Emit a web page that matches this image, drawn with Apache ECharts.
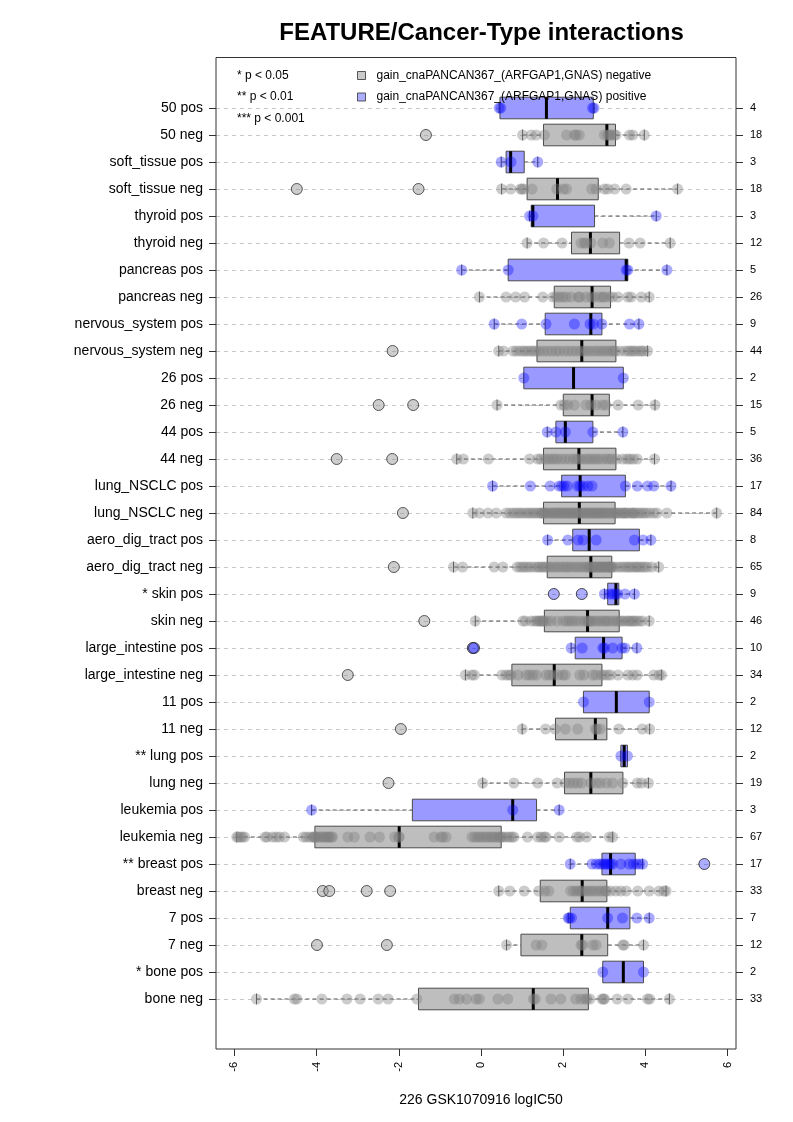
<!DOCTYPE html>
<html><head><meta charset="utf-8">
<script src="https://cdn.jsdelivr.net/npm/echarts/dist/echarts.min.js"></script>
<style>html,body{margin:0;padding:0;background:#fff}#c{width:793px;height:1122px}</style>
</head><body><div id="c"></div>
<script>
// rows listed bottom -> top
const rowNames = ['bone neg','* bone pos','7 neg','7 pos','breast neg','** breast pos','leukemia neg','leukemia pos',
  'lung neg','** lung pos','11 neg','11 pos','large_intestine neg','large_intestine pos','skin neg','* skin pos',
  'aero_dig_tract neg','aero_dig_tract pos','lung_NSCLC neg','lung_NSCLC pos','44 neg','44 pos','26 neg','26 pos',
  'nervous_system neg','nervous_system pos','pancreas neg','pancreas pos','thyroid neg','thyroid pos',
  'soft_tissue neg','soft_tissue pos','50 neg','50 pos'];
const counts = [33,2,12,7,33,17,67,3,19,2,12,2,34,10,46,9,65,8,84,17,36,5,15,2,44,9,26,5,12,3,18,3,18,4];
const boxLo  = [-5.46,2.96,0.62,2.12,0.43,2.17,-5.94,-4.12,0.04,3.40,1.00,2.49,-0.38,2.19,-0.14,3.00,-0.67,1.62,-0.20,0.28,-0.59,1.61,0.39,1.04,0.43,0.32,-0.04,-0.47,1.12,1.18,0.50,0.49,1.01,0.44];
const boxQ1  = [-1.52,2.96,0.97,2.17,1.44,2.94,-4.04,-1.67,2.03,3.40,1.81,2.49,0.75,2.29,1.54,3.08,1.61,2.23,1.52,1.96,1.52,1.82,2.00,1.04,1.36,1.56,1.78,0.66,2.20,1.22,1.12,0.61,1.52,0.46];
const boxMed = [1.27,3.46,2.45,3.08,2.46,3.15,-1.99,0.77,2.67,3.48,2.78,3.29,1.78,2.98,2.59,3.28,2.67,2.63,2.39,2.41,2.38,2.05,2.70,2.25,2.45,2.67,2.70,3.53,2.66,1.26,1.86,0.72,3.06,1.59];
const boxQ3  = [2.61,3.95,3.08,3.62,3.06,3.75,0.49,1.35,3.45,3.56,3.06,4.09,2.94,3.43,3.36,3.35,3.18,3.85,3.26,3.51,3.28,2.72,3.12,3.46,3.28,2.94,3.15,3.57,3.37,2.76,2.85,1.05,3.27,2.73];
const boxHi  = [4.58,3.95,3.95,4.09,4.50,3.93,3.20,1.90,4.07,3.56,4.10,4.09,4.39,3.79,4.09,3.73,4.32,4.13,5.73,4.62,4.22,3.45,4.23,3.46,4.05,3.84,4.09,4.52,4.60,4.26,4.78,1.38,3.97,2.75];

const pointsByRow = [
  [-5.46,-4.54,-4.48,-3.87,-3.26,-2.94,-2.50,-2.26,-1.56,-0.65,-0.53,-0.35,-0.12,-0.04,0.41,0.65,1.27,1.32,1.70,1.94,2.30,2.43,2.53,2.58,2.65,2.94,2.98,3.00,3.31,3.57,4.05,4.10,4.58],
  [2.96,3.95],
  [0.62,1.34,1.48,2.43,2.47,2.72,2.80,3.45,3.48,3.95],
  [2.12,2.15,2.20,3.08,3.44,3.79,4.09],
  [0.43,0.70,1.05,1.40,1.55,1.65,2.18,2.25,2.32,2.38,2.44,2.50,2.58,2.65,2.72,2.80,2.88,2.95,3.02,3.05,3.15,3.28,3.40,3.53,3.81,4.09,4.33,4.45,4.50],
  [2.17,2.70,2.80,2.88,2.94,3.00,3.05,3.10,3.15,3.20,3.40,3.60,3.70,3.78,3.85,3.93],
  [-5.94,-5.90,-5.85,-5.80,-5.75,-5.25,-5.20,-5.07,-4.98,-4.90,-4.78,-4.32,-4.25,-4.17,-4.10,-4.06,-4.04,
   -4.01,-3.96,-3.90,-3.85,-3.80,-3.75,-3.72,-3.69,-3.64,-3.61,-3.24,-3.08,-2.70,-2.47,-2.10,-2.00,-1.99,
   -1.14,-0.98,-0.93,-0.85,-0.22,-0.15,-0.08,-0.02,0.05,0.12,0.18,0.25,0.30,0.36,0.42,0.47,0.49,
   0.55,0.62,0.69,0.75,0.80,1.13,1.38,1.46,1.54,1.58,1.90,2.33,2.40,2.57,3.12,3.20],
  [-4.12,0.77,1.90],
  [0.04,0.80,1.38,1.85,2.05,2.15,2.25,2.35,2.45,2.67,2.80,2.90,3.05,3.20,3.45,3.80,3.90,4.07],
  [3.40,3.56],
  [1.00,1.57,1.80,2.05,2.35,2.78,2.82,2.90,3.35,3.92,4.10],
  [2.49,4.09],
  [-0.38,-0.22,-0.16,0.51,0.61,0.68,0.73,0.90,1.10,1.18,1.26,1.35,1.58,1.66,1.75,1.87,1.99,2.05,2.40,2.50,2.72,2.80,2.93,3.00,3.08,3.15,3.33,3.57,3.69,3.80,4.20,4.33,4.39],
  [2.19,2.46,2.96,3.00,3.20,3.43,3.50,3.79],
  [-0.14,1.02,1.08,1.22,1.30,1.36,1.40,1.44,1.47,1.50,1.53,1.60,1.70,1.85,2.00,2.08,2.15,2.22,2.30,2.40,2.50,2.57,2.62,2.65,2.70,2.78,2.85,2.92,3.00,3.05,3.12,3.20,3.28,3.34,3.40,3.45,3.52,3.58,3.62,3.68,3.72,3.78,3.85,3.92,4.09],
  [3.00,3.12,3.20,3.26,3.32,3.50,3.73],
  [-0.67,-0.45,0.32,0.53,0.88,0.95,1.02,1.08,1.15,1.22,1.30,1.38,1.42,1.48,1.53,1.58,
   1.64,1.70,1.78,1.85,1.92,2.00,2.07,2.12,2.20,2.28,2.35,2.42,2.50,2.56,2.62,2.66,
   2.70,2.73,2.77,2.80,2.84,2.88,2.91,2.94,2.98,3.01,3.04,3.08,3.11,3.13,3.16,3.18,
   3.22,3.30,3.38,3.45,3.52,3.58,3.63,3.70,3.76,3.80,3.86,3.92,3.98,4.05,4.15,4.32],
  [1.62,2.11,2.36,2.48,2.80,3.73,3.94,4.13],
  [-0.20,-0.04,0.17,0.37,0.61,0.70,0.78,0.85,0.92,0.98,1.05,1.12,1.18,1.24,1.30,1.36,1.42,1.47,1.50,1.52,
   1.56,1.60,1.65,1.70,1.74,1.78,1.83,1.87,1.90,1.95,1.99,2.03,2.07,2.11,2.15,2.19,2.23,2.27,2.31,2.35,2.39,
   2.43,2.47,2.51,2.55,2.60,2.64,2.68,2.72,2.76,2.80,2.84,2.88,2.92,2.96,3.00,3.04,3.09,3.13,3.18,3.22,3.26,
   3.30,3.34,3.39,3.44,3.48,3.50,3.55,3.60,3.66,3.70,3.72,3.78,3.84,3.90,3.96,4.02,4.10,4.20,4.28,4.52,5.73],
  [0.28,1.20,1.68,1.90,1.96,2.02,2.10,2.35,2.41,2.48,2.60,2.70,3.51,3.80,4.05,4.20,4.62],
  [-0.59,-0.43,0.18,1.18,1.38,1.45,1.55,1.62,1.70,1.78,1.85,1.95,2.05,2.15,2.25,2.32,2.38,2.45,2.55,2.62,2.70,2.78,2.85,2.95,3.05,3.12,3.20,3.30,3.45,3.55,3.62,3.70,3.80,4.22],
  [1.61,1.82,2.05,2.72,3.45],
  [0.39,1.94,2.02,2.11,2.27,2.55,2.67,2.80,2.96,3.04,3.33,3.82,4.23],
  [1.04,3.46],
  [0.43,0.55,0.78,0.86,0.94,1.02,1.08,1.15,1.22,1.28,1.34,1.42,1.52,1.62,1.72,1.82,1.90,2.02,2.12,2.22,2.32,2.42,2.50,2.58,2.66,2.76,2.84,2.92,3.00,3.08,3.16,3.22,3.27,3.38,3.50,3.58,3.64,3.70,3.76,3.84,3.90,3.96,4.05],
  [0.32,0.99,1.58,2.27,2.65,2.73,2.94,3.61,3.84],
  [-0.04,0.61,0.84,1.06,1.50,1.75,1.83,1.91,1.99,2.07,2.19,2.36,2.40,2.56,2.68,2.76,2.88,2.96,3.00,3.12,3.20,3.33,3.57,3.65,3.90,4.09],
  [-0.47,0.66,3.53,3.57,4.52],
  [1.12,1.52,1.97,2.43,2.51,2.55,2.67,2.96,3.12,3.60,3.87,4.60],
  [1.18,1.26,4.26],
  [0.50,0.72,0.96,1.00,1.04,1.24,1.84,2.00,2.08,2.69,2.80,3.00,3.08,3.25,3.53,4.78],
  [0.49,0.73,1.38],
  [1.01,1.22,1.34,1.54,2.08,2.27,2.31,2.39,3.00,3.08,3.12,3.16,3.24,3.28,3.61,3.69,3.97],
  [0.44,0.48,2.71,2.75]
];
const outliersByRow = [
  [],[],[-3.99,-2.29],[],[-3.85,-3.69,-2.78,-2.21],[5.43],[],[],
  [-2.25],[],[-1.95],[],[-3.24],[-0.20,-0.17],[-1.38],[1.77,2.45],
  [-2.12],[],[-1.90],[],[-3.51,-2.16],[],[-2.49,-1.65],[],
  [-2.15],[],[],[],[],[],[-4.48,-1.52],[],[-1.34],[]
];
const xTitle = '226 GSK1070916 logIC50';
const chartTitle = 'FEATURE/Cancer-Type interactions';
const NEG_NAME = 'gain_cnaPANCAN367_(ARFGAP1,GNAS) negative';
const POS_NAME = 'gain_cnaPANCAN367_(ARFGAP1,GNAS) positive';
const pLegend = ['* p < 0.05', '** p < 0.01', '*** p < 0.001'];

const FONT = "'Liberation Sans', Arial, Helvetica, sans-serif";
const isPos = rowNames.map(n => /pos$/.test(n));

const boxData = rowNames.map((n, i) => [i + 1, boxLo[i], boxQ1[i], boxMed[i], boxQ3[i], boxHi[i], isPos[i] ? 1 : 0]);
const negPts = [], posPts = [], negOut = [], posOut = [];
pointsByRow.forEach((arr, i) => arr.forEach(v => (isPos[i] ? posPts : negPts).push([v, i + 1])));
outliersByRow.forEach((arr, i) => arr.forEach(v => (isPos[i] ? posOut : negOut).push([v, i + 1])));

function renderBox(params, api) {
  const row = api.value(0);
  const pos = api.value(6) === 1;
  const pLo = api.coord([api.value(1), row]);
  const pQ1 = api.coord([api.value(2), row]);
  const pMed = api.coord([api.value(3), row]);
  const pQ3 = api.coord([api.value(4), row]);
  const pHi = api.coord([api.value(5), row]);
  const h = api.size([0, 0.8])[1];
  const y = pQ1[1];
  const sh = h / 4;
  const edge = '#4a4a4a';
  const whisk = { stroke: '#555', lineWidth: 1, lineDash: [4, 3] };
  return {
    type: 'group',
    children: [
      { type: 'line', shape: { x1: pLo[0], y1: y, x2: pQ1[0], y2: y }, style: whisk },
      { type: 'line', shape: { x1: pQ3[0], y1: y, x2: pHi[0], y2: y }, style: whisk },
      { type: 'line', shape: { x1: pLo[0], y1: y - sh, x2: pLo[0], y2: y + sh }, style: { stroke: edge, lineWidth: 1 } },
      { type: 'line', shape: { x1: pHi[0], y1: y - sh, x2: pHi[0], y2: y + sh }, style: { stroke: edge, lineWidth: 1 } },
      { type: 'rect', shape: { x: pQ1[0], y: y - h / 2, width: pQ3[0] - pQ1[0], height: h },
        style: { fill: pos ? '#9999ff' : '#bebebe', stroke: edge, lineWidth: 1 } },
      { type: 'line', shape: { x1: pMed[0], y1: y - h / 2, x2: pMed[0], y2: y + h / 2 }, style: { stroke: '#000', lineWidth: 3 } }
    ]
  };
}

const chart = echarts.init(document.getElementById('c'), null, { renderer: 'canvas' });
const axisText = { fontFamily: FONT, color: '#000' };
chart.setOption({
  animation: false,
  backgroundColor: '#fff',
  title: {
    text: chartTitle, left: 476.5, top: 16, textAlign: 'center',
    textStyle: { fontFamily: FONT, fontSize: 24, fontWeight: 'bold', color: '#000' }
  },
  legend: {
    orient: 'vertical', left: 357, top: 69.5, padding: 0, itemWidth: 8, itemHeight: 8, itemGap: 9.5,
    icon: 'rect', selectedMode: false,
    data: [
      { name: NEG_NAME, itemStyle: { color: '#bebebe', borderColor: '#333', borderWidth: 1 } },
      { name: POS_NAME, itemStyle: { color: '#9999ff', borderColor: '#333', borderWidth: 1 } }
    ],
    textStyle: { fontFamily: FONT, fontSize: 12, color: '#000', padding: [0, 0, 0, 6] }
  },
  grid: [
    { left: 216, right: 57, top: 108, bottom: 123 },
    { left: 234.3, right: 65.3, top: 108, bottom: 123 }
  ],
  xAxis: [
    { type: 'value', gridIndex: 0, min: -6.445, max: 6.20, show: false },
    { type: 'value', gridIndex: 1, min: -6, max: 6, interval: 2, offset: 50,
      axisLine: { show: false, onZero: false },
      axisTick: { show: true, length: 7, lineStyle: { color: '#333' } },
      splitLine: { show: false },
      axisLabel: Object.assign({ rotate: 90, fontSize: 11, margin: 13 }, axisText),
      name: xTitle, nameLocation: 'middle', nameGap: 44,
      nameTextStyle: { fontFamily: FONT, fontSize: 14, color: '#000' } }
  ],
  yAxis: [
    { type: 'value', gridIndex: 0, min: 1, max: 34, interval: 1, position: 'left',
      axisLine: { show: false, onZero: false },
      axisTick: { show: true, length: 7, lineStyle: { color: '#333' } },
      axisLabel: Object.assign({ fontSize: 14, margin: 13, formatter: v => rowNames[Math.round(v) - 1] || '' }, axisText),
      splitLine: { show: true, lineStyle: { type: [4, 4], color: '#c8c8c8', width: 1 } } },
    { type: 'value', gridIndex: 0, min: 1, max: 34, interval: 1, position: 'right',
      axisLine: { show: false, onZero: false },
      axisTick: { show: true, length: 7, lineStyle: { color: '#333' } },
      axisLabel: Object.assign({ fontSize: 11, margin: 14, formatter: v => String(counts[Math.round(v) - 1]) }, axisText),
      splitLine: { show: false } },
    { type: 'value', gridIndex: 1, min: 1, max: 34, show: false, axisLine: { show: false, onZero: false } }
  ],
  graphic: [
    { type: 'rect', z: 100, silent: true, shape: { x: 216, y: 57.5, width: 520, height: 991.5 },
      style: { fill: 'none', stroke: '#333', lineWidth: 1 } }
  ].concat(pLegend.map((t, i) => ({
    type: 'text', z: 100, x: 237, y: 75.5 + i * 21.5, silent: true,
    style: { text: t, fontFamily: FONT, fontSize: 12, fill: '#000', verticalAlign: 'middle', align: 'left' }
  }))),
  series: [
    { type: 'custom', name: 'boxes', xAxisIndex: 0, yAxisIndex: 0, renderItem: renderBox,
      data: boxData, encode: { x: [1, 2, 3, 4, 5], y: 0 }, z: 2, silent: true, clip: false },
    { type: 'scatter', name: NEG_NAME, xAxisIndex: 0, yAxisIndex: 0, data: negPts, symbolSize: 11,
      itemStyle: { color: 'rgba(128,128,128,0.5)' }, z: 3, clip: false, silent: true },
    { type: 'scatter', name: POS_NAME, xAxisIndex: 0, yAxisIndex: 0, data: posPts, symbolSize: 11,
      itemStyle: { color: 'rgba(0,0,255,0.42)' }, z: 3, clip: false, silent: true },
    { type: 'scatter', name: 'neg outliers', xAxisIndex: 0, yAxisIndex: 0, data: negOut, symbolSize: 11,
      itemStyle: { color: 'rgba(150,150,150,0.6)', borderColor: '#333', borderWidth: 1 }, z: 4, clip: false, silent: true },
    { type: 'scatter', name: 'pos outliers', xAxisIndex: 0, yAxisIndex: 0, data: posOut, symbolSize: 11,
      itemStyle: { color: 'rgba(0,0,255,0.4)', borderColor: '#222', borderWidth: 1 }, z: 4, clip: false, silent: true }
  ]
});
</script>
</body></html>
